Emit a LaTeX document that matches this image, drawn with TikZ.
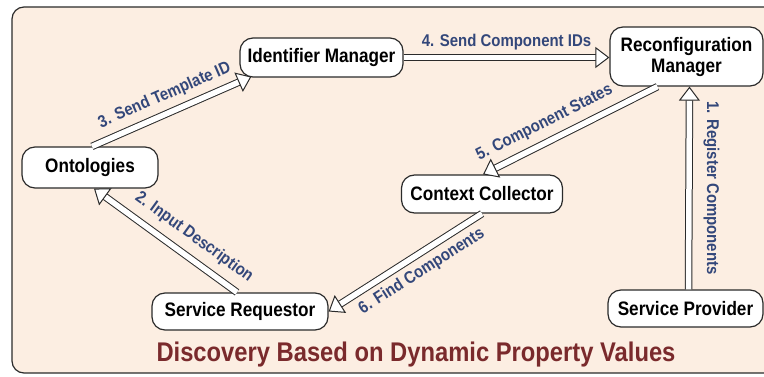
\documentclass[tikz,border=0pt]{standalone}
\usepackage{fontspec}
\setmainfont{Liberation Sans}[FakeStretch=0.88]
\usepackage{xcolor}
\usepackage{tikz}
\usetikzlibrary{arrows.meta,positioning}
\definecolor{Ink}{HTML}{2B2B2B}
\definecolor{Peach}{HTML}{FCEEE2}
\definecolor{SlateBlue}{HTML}{33477A}
\definecolor{Maroon}{HTML}{7A2A2C}

\begin{document}
\begin{tikzpicture}[x=1pt,y=1pt]
  \useasboundingbox (0,0) rectangle (764,376);
  \tikzset{
    dscNode/.style={
      draw=Ink, fill=white, line width=1.2pt,
      rounded corners=13pt, inner sep=2pt, align=center,
      font=\fontsize{19.5}{21}\selectfont\bfseries, text=black
    },
    dscFlow/.style={
      draw=Ink, line width=1pt, double=white, double distance=5.5pt,
      -{Triangle[open, length=14pt, width=21pt, fill=white]}
    },
    dscLabel/.style={
      font=\fontsize{17}{19}\selectfont\bfseries, text=SlateBlue,
      inner sep=2pt
    }
  }

  % frame
  \draw[draw=Ink, fill=Peach, line width=1.2pt, rounded corners=12pt]
    (12,3) rectangle (790,369);

  \node[dscNode, minimum width=136pt, minimum height=41pt] (ont) at (90,208.5)
    {Ontologies};
  \node[dscNode, minimum width=163pt, minimum height=39pt] (idm) at (321.5,318.5)
    {Identifier Manager};
  \node[dscNode, minimum width=153pt, minimum height=59pt] (rcm) at (686.5,319.5)
    {Reconfiguration\\Manager};
  \node[dscNode, minimum width=161pt, minimum height=38pt] (ctx) at (482,182)
    {Context Collector};
  \node[dscNode, minimum width=176pt, minimum height=37pt] (req) at (240,64.5)
    {Service Requestor};
  \node[dscNode, minimum width=155pt, minimum height=37pt] (prov) at (685.5,67.5)
    {Service Provider};

  \draw[dscFlow] ([xshift=3pt]prov.north) -- ([xshift=3pt]rcm.south)
    node[midway, dscLabel, xshift=12pt, rotate=-90, anchor=south]
    {1. Register Components};
  \draw[dscFlow] ([xshift=-3pt]req.north) -- ([xshift=4pt]ont.south)
    node[pos=0.38, dscLabel, sloped, above=9pt] {2. Input Description};
  \draw[dscFlow] ([xshift=2pt]ont.north) -- ([xshift=12pt,yshift=1pt]idm.south west)
    node[midway, dscLabel, sloped, above=7pt] {3. Send Template ID};
  \draw[dscFlow] (idm.east) -- (idm.east -| rcm.west)
    node[midway, dscLabel, above=5pt] {4. Send Component IDs};
  \draw[dscFlow] ([xshift=-29pt]rcm.south) -- ([xshift=1pt]ctx.north)
    node[pos=0.6, dscLabel, sloped, above=8pt] {5. Component States};
  \draw[dscFlow] (ctx.south) -- (req.east)
    node[pos=0.45, dscLabel, sloped, below=6pt] {6. Find Components};

  \node[font=\fontsize{27}{31}\selectfont\bfseries, text=Maroon] (title)
    at (416,21) {Discovery Based on Dynamic Property Values};
\end{tikzpicture}
\end{document}
